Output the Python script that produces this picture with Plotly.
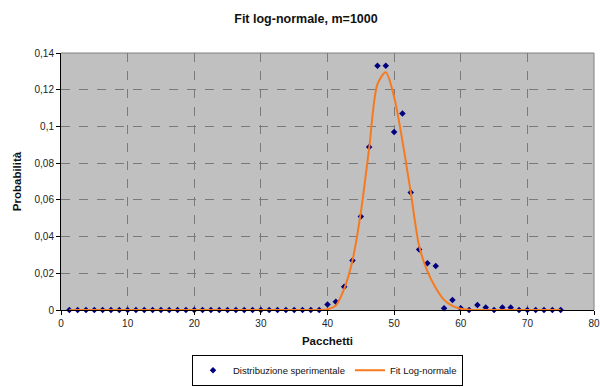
import plotly.graph_objects as go

# ---- data ----
title_text = "Fit log-normale, m=1000"
x_title = "Pacchetti"
y_title = "Probabilità"
series_names = ["Distribuzione sperimentale", "Fit Log-normale"]

# x positions of the samples (packets), step 1.25
pacchetti = [1.25, 2.5, 3.75, 5, 6.25, 7.5, 8.75, 10, 11.25, 12.5,
             13.75, 15, 16.25, 17.5, 18.75, 20, 21.25, 22.5, 23.75, 25,
             26.25, 27.5, 28.75, 30, 31.25, 32.5, 33.75, 35, 36.25, 37.5,
             38.75, 40, 41.25, 42.5, 43.75, 45, 46.25, 47.5, 48.75, 50,
             51.25, 52.5, 53.75, 55, 56.25, 57.5, 58.75, 60, 61.25, 62.5,
             63.75, 65, 66.25, 67.5, 68.75, 70, 71.25, 72.5, 73.75, 75]

distribuzione = [0, 0, 0, 0, 0, 0, 0, 0, 0, 0,
                 0, 0, 0, 0, 0, 0, 0, 0, 0, 0,
                 0, 0, 0, 0, 0, 0, 0, 0, 0, 0,
                 0, 0.003, 0.0045, 0.0127, 0.027, 0.051, 0.0888, 0.133, 0.133, 0.097,
                 0.107, 0.064, 0.033, 0.0255, 0.024, 0.001, 0.0054, 0.001, 0, 0.0027,
                 0.0013, 0, 0.0013, 0.0013, 0, 0, 0, 0, 0, 0]

fit_lognormale = [0, 0, 0, 0, 0, 0, 0, 0, 0, 0,
                  0, 0, 0, 0, 0, 0, 0, 0, 0, 0,
                  0, 0, 0, 0, 0, 0, 0, 0, 0, 0,
                  0, 0.0004, 0.0025, 0.0115, 0.027, 0.053, 0.088, 0.123, 0.1295, 0.116,
                  0.092, 0.064, 0.035, 0.021, 0.012, 0.0055, 0.0022, 0.0007, 0.0002, 0,
                  0, 0, 0, 0, 0, 0, 0, 0, 0, 0]

x_ticks = [0, 10, 20, 30, 40, 50, 60, 70, 80]
y_ticks = [0, 0.02, 0.04, 0.06, 0.08, 0.1, 0.12, 0.14]
y_ticktext = ["0", "0,02", "0,04", "0,06", "0,08", "0,1", "0,12", "0,14"]

FONT = "Liberation Sans, Arial, sans-serif"

fig = go.Figure()
fig.add_trace(go.Scatter(
    x=pacchetti, y=distribuzione, mode="markers", name=series_names[0],
    marker=dict(symbol="diamond", size=5, color="#000080"),
    cliponaxis=False,
))
fig.add_trace(go.Scatter(
    x=pacchetti, y=fit_lognormale, mode="lines", name=series_names[1],
    line=dict(color="#F57A1F", width=2, shape="spline", smoothing=0.8),
))

fig.update_layout(
    width=600, height=387,
    margin=dict(l=61, r=6, t=53, b=77, autoexpand=False),
    paper_bgcolor="white",
    plot_bgcolor="#C0C0C0",
    font=dict(family=FONT, size=10, color="#222222"),
    title=dict(text="<b>" + title_text + "</b>", x=0.51, xanchor="center",
               y=0.953, yanchor="middle", font=dict(size=12.5, color="#111111")),
    showlegend=True,
    legend=dict(orientation="h", x=0.5, xanchor="center",
                yref="container", y=0.003, yanchor="bottom",
                bordercolor="#000000", borderwidth=1, bgcolor="white",
                font=dict(size=9.5, color="#111111"),
                itemwidth=30, tracegroupgap=0, entrywidth=0),
    xaxis=dict(range=[0, 80], tickvals=x_ticks, ticktext=[str(v) for v in x_ticks],
               automargin=False,
               showgrid=True, gridcolor="#7A7A7A", griddash="dash", gridwidth=1,
               showline=True, linecolor="#000000", linewidth=1,
               ticks="outside", ticklen=4, tickcolor="#000000",
               zeroline=False,
               title=dict(text="<b>" + x_title + "</b>", standoff=8,
                          font=dict(size=11.5, color="#111111"))),
    yaxis=dict(range=[0, 0.14], tickvals=y_ticks, ticktext=y_ticktext,
               automargin=False,
               showgrid=True, gridcolor="#7A7A7A", griddash="dash", gridwidth=1,
               showline=True, linecolor="#000000", linewidth=1,
               ticks="outside", ticklen=4, tickcolor="#000000",
               zeroline=False,
               title=dict(text="<b>" + y_title + "</b>", standoff=10,
                          font=dict(size=11.5, color="#111111"))),
)

# gray border on top and right of the plot area
fig.add_shape(type="line", xref="paper", yref="paper", x0=0, x1=1, y0=1, y1=1,
              line=dict(color="#808080", width=1))
fig.add_shape(type="line", xref="paper", yref="paper", x0=1, x1=1, y0=0, y1=1,
              line=dict(color="#808080", width=1))

fig.write_html("out.html")
